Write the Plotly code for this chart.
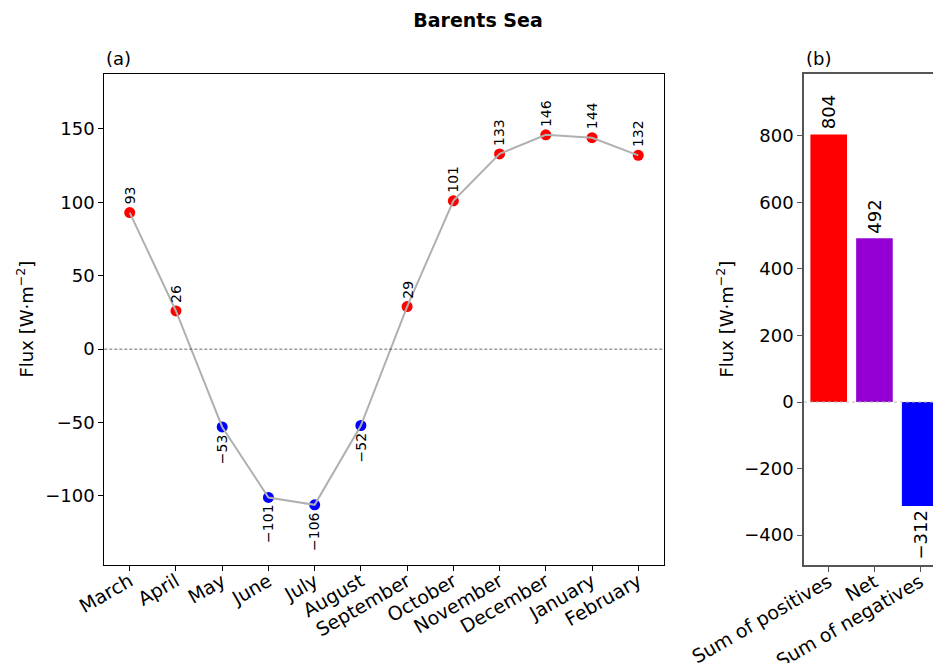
import plotly.graph_objects as go

months = ["March", "April", "May", "June", "July", "August", "September",
          "October", "November", "December", "January", "February"]
monthly_flux = [93, 26, -53, -101, -106, -52, 29, 101, 133, 146, 144, 132]

summary_labels = ["Sum of positives", "Net", "Sum of negatives"]
summary_values = [804, 492, -312]
summary_colors = ["#ff0000", "#9400d3", "#0000ff"]

W, H = 933, 663
FONT = "DejaVu Sans"

def px_x(p):
    return p / W

def px_y(p):
    return 1 - p / H

xa_dom = [px_x(104.3), px_x(663.7)]
xb_dom = [px_x(804), 1.0]
y_dom = [px_y(565), px_y(74)]

idx = list(range(len(months)))
marker_colors = ["#ff0000" if v >= 0 else "#0000ff" for v in monthly_flux]

fig = go.Figure()

fig.add_trace(go.Scatter(
    x=idx, y=monthly_flux, mode="markers",
    marker=dict(color=marker_colors, size=11, line=dict(width=0)),
    xaxis="x", yaxis="y", showlegend=False, hoverinfo="skip"))
fig.add_trace(go.Scatter(
    x=idx, y=monthly_flux, mode="lines",
    line=dict(color="#b0b0b0", width=2),
    xaxis="x", yaxis="y", showlegend=False))

bidx = list(range(len(summary_labels)))
fig.add_trace(go.Bar(
    x=bidx, y=summary_values, marker=dict(color=summary_colors, line=dict(width=0)),
    width=0.8, xaxis="x2", yaxis="y2", showlegend=False))

annotations = []
for i, v in zip(idx, monthly_flux):
    s = str(v).replace("-", "\u2212")
    annotations.append(dict(
        x=i, y=v, xref="x", yref="y", text=s, showarrow=False,
        textangle=-90, font=dict(family=FONT, size=14, color="black"),
        yanchor="bottom" if v >= 0 else "top",
        yshift=7 if v >= 0 else -6, borderpad=0))
for i, v in zip(bidx, summary_values):
    s = str(v).replace("-", "\u2212")
    annotations.append(dict(
        x=i, y=v, xref="x2", yref="y2", text=s, showarrow=False,
        textangle=-90, font=dict(family=FONT, size=18, color="black"),
        yanchor="bottom" if v >= 0 else "top",
        yshift=4 if v >= 0 else -4, borderpad=0))

# panel labels
annotations.append(dict(x=xa_dom[0], y=y_dom[1], xref="paper", yref="paper",
                        text="(a)", showarrow=False, xanchor="left", yanchor="bottom",
                        yshift=3, font=dict(family=FONT, size=18, color="black")))
annotations.append(dict(x=xb_dom[0], y=y_dom[1], xref="paper", yref="paper",
                        text="(b)", showarrow=False, xanchor="left", yanchor="bottom",
                        yshift=3, font=dict(family=FONT, size=18, color="black")))
# axis titles
ytitle = "Flux [W\u00b7m<sup>\u22122</sup>]"
annotations.append(dict(x=px_x(25), y=(y_dom[0] + y_dom[1]) / 2, xref="paper", yref="paper",
                        text=ytitle, showarrow=False, textangle=-90,
                        xanchor="center", yanchor="middle",
                        font=dict(family=FONT, size=18, color="black")))
annotations.append(dict(x=px_x(725), y=(y_dom[0] + y_dom[1]) / 2, xref="paper", yref="paper",
                        text=ytitle, showarrow=False, textangle=-90,
                        xanchor="center", yanchor="middle",
                        font=dict(family=FONT, size=18, color="black")))

shapes = [
    dict(type="line", xref="x domain", yref="y", x0=0, x1=1, y0=0, y1=0,
         line=dict(color="#444444", width=0.8, dash="3px,2px")),
    dict(type="line", xref="x2 domain", yref="y2", x0=0, x1=1, y0=0, y1=0,
         line=dict(color="#bbbbbb", width=1, dash="dot"), layer="above"),
]

tickfont = dict(family=FONT, size=18, color="black")
xtickfont = dict(family=FONT, size=19, color="black")

fig.update_layout(
    width=W, height=H,
    margin=dict(l=0, r=0, t=0, b=0, autoexpand=False),
    paper_bgcolor="white", plot_bgcolor="white",
    font=dict(family=FONT, color="black"),
    title=dict(text="<b>Barents Sea</b>", x=px_x(478), y=px_y(20),
               xanchor="center", yanchor="middle", xref="paper", yref="paper",
               font=dict(family=FONT, size=19, color="black")),
    xaxis=dict(domain=xa_dom, anchor="y", range=[-0.55, 11.55], automargin=False,
               tickmode="array", tickvals=idx, ticktext=months, tickangle=-30,
               ticks="outside", ticklen=5, tickcolor="black", tickwidth=1,
               ticklabelstandoff=-8,
               showline=True, linecolor="black", linewidth=1, mirror=True,
               showgrid=False, zeroline=False, tickfont=xtickfont),
    yaxis=dict(domain=y_dom, anchor="x", range=[-147, 187.4], automargin=False,
               tickmode="linear", tick0=0, dtick=50,
               ticks="outside", ticklen=5, tickcolor="black", tickwidth=1,
               showline=True, linecolor="black", linewidth=1, mirror=True,
               showgrid=False, zeroline=False, tickfont=tickfont,
               exponentformat="none"),
    xaxis2=dict(domain=xb_dom, anchor="y2", range=[-0.54, 2.28], automargin=False,
                tickmode="array", tickvals=bidx, ticktext=summary_labels, tickangle=-30,
                ticks="outside", ticklen=5, tickcolor="#555555", tickwidth=1,
                ticklabelstandoff=-8,
                showline=True, linecolor="#555555", linewidth=1.5, mirror=True,
                showgrid=False, zeroline=False, tickfont=xtickfont),
    yaxis2=dict(domain=y_dom, anchor="x2", range=[-489.6, 985.6], automargin=False,
                tickmode="linear", tick0=0, dtick=200,
                ticks="outside", ticklen=5, tickcolor="#555555", tickwidth=1,
                showline=True, linecolor="#555555", linewidth=1.5, mirror=False,
                showgrid=False, zeroline=False, tickfont=tickfont),
    annotations=annotations,
    shapes=shapes,
)

fig.write_html("out.html", config={"displayModeBar": False},
               post_script="document.body.style.margin='0';document.body.style.overflow='hidden';")
